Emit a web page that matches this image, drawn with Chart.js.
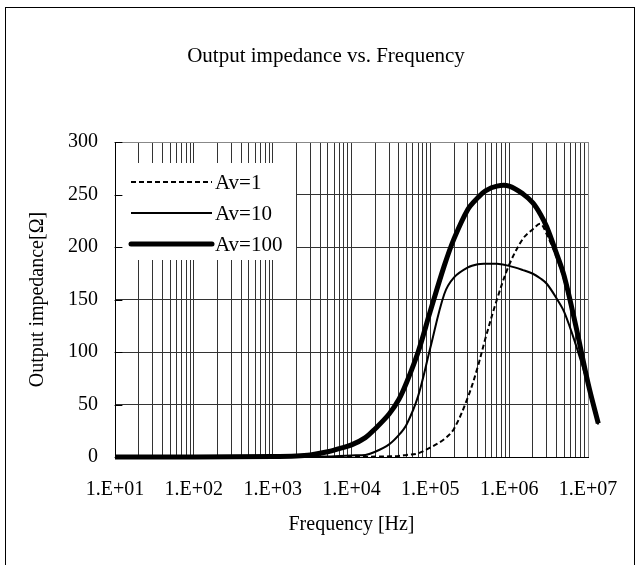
<!DOCTYPE html>
<html>
<head>
<meta charset="utf-8">
<script src="https://cdn.jsdelivr.net/npm/chart.js@4.4.1/dist/chart.umd.min.js"></script>
<style>
  html, body { margin: 0; padding: 0; background: #fff; }
  #wrap { width: 639px; height: 565px; }
</style>
</head>
<body>
<div id="wrap"><canvas id="impChart" width="639" height="565"></canvas></div>
<script>
// Values
const freq = [10, 100, 1000, 2000, 3000, 5000, 7000, 1e4, 1.5e4, 2e4, 3e4, 4e4, 5e4, 7e4,
    1e5, 1.5e5, 2e5, 3e5, 4e5, 5e5, 7e5, 1e6, 1.5e6, 2e6, 2.5e6, 3e6, 4e6, 5e6, 7e6, 1e7, 1.35e7];
const av1 = [0, 0, 0, 0, 0, 0, 0, 0.2, 0.3, 0.4, 0.6, 1, 2, 3.5,
    9, 17, 27, 57, 86, 113, 150, 183, 208, 217, 222, 212, 190, 168, 122, 70, 32];
const av10 = [0, 0, 0, 0, 0.3, 0.5, 1, 1.5, 2, 5, 12, 21, 31, 58,
    104, 155, 171, 180.5, 183.5, 184, 184, 182, 178, 174.5, 170, 165, 151, 138, 107, 69, 31];
const av100 = [0, 0, 0.5, 1, 2, 5, 8, 11.5, 18.5, 27, 41, 55, 71, 100,
    139, 182, 208, 236, 247, 253.5, 258, 258, 250.5, 242, 231, 219, 193.5, 172, 125, 70.5, 32];

const seriesNames = ['Av=1', 'Av=10', 'Av=100'];
const decades = [1e1, 1e2, 1e3, 1e4, 1e5, 1e6, 1e7];
const xTickLabels = ['1.E+01', '1.E+02', '1.E+03', '1.E+04', '1.E+05', '1.E+06', '1.E+07'];
const yTicks = [0, 50, 100, 150, 200, 250, 300];

const chartTitle = 'Output impedance vs. Frequency';
const xTitle = 'Frequency [Hz]';
const yTitle = 'Output impedance[Ω]';

const serif = "'Liberation Serif', 'Times New Roman', serif";
Chart.defaults.font.family = serif;
Chart.defaults.color = '#000';

function toPoints(values) {
    return freq.map((f, i) => ({ x: f, y: values[i] }));
}

// 1..9 x 10^n positions for the log grid
const gridValues = [];
decades.forEach((d, i) => {
    for (let m = 1; m <= 9; m++) {
        if (i < decades.length - 1 || m === 1) gridValues.push(d * m);
    }
});

// line looks for the three series (also used by the legend)
const styles = [
    { width: 2, dash: [5, 3] },
    { width: 2, dash: [] },
    { width: 5, dash: [] },
];

// white page, outer frame and the title
const framePlugin = {
    id: 'frame',
    beforeDraw(chart) {
        const c = chart.ctx;
        c.save();
        c.fillStyle = '#fff';
        c.fillRect(0, 0, chart.width, chart.height);
        c.strokeStyle = '#000';
        c.lineWidth = 1;
        c.strokeRect(5.5, 7.5, 629, 560);
        c.restore();
    },
    afterDraw(chart) {
        const c = chart.ctx;
        c.save();
        c.fillStyle = '#000';
        c.font = '21px ' + serif;
        c.textAlign = 'center';
        c.textBaseline = 'middle';
        c.fillText(chartTitle, 326, 56);
        c.restore();
    }
};

// legend box inside the plot, plus the short inside ticks on the y axis
const legendBoxPlugin = {
    id: 'legendBox',
    afterDatasetsDraw(chart) {
        const c = chart.ctx;
        const area = chart.chartArea;
        const yScale = chart.scales.y;
        c.save();
        c.fillStyle = '#fff';
        c.fillRect(area.left + 1, 163, 180, 97);

        const rows = [182, 213, 244];
        c.font = '21px ' + serif;
        c.textBaseline = 'middle';
        c.textAlign = 'left';
        seriesNames.forEach((name, i) => {
            c.strokeStyle = '#000';
            c.lineWidth = styles[i].width;
            c.setLineDash(styles[i].dash);
            c.lineCap = i === 2 ? 'round' : 'butt';
            c.beginPath();
            c.moveTo(131, rows[i]);
            c.lineTo(212, rows[i]);
            c.stroke();
            c.setLineDash([]);
            c.fillStyle = '#000';
            c.fillText(name, 215, rows[i] + 1);
        });

        c.strokeStyle = '#000';
        c.lineWidth = 1;
        yTicks.forEach(v => {
            const py = Math.round(yScale.getPixelForValue(v)) + 0.5;
            c.beginPath();
            c.moveTo(area.left, py);
            c.lineTo(area.left + 7, py);
            c.stroke();
        });
        c.restore();
    }
};

const series = [av1, av10, av100];
const ctx = document.getElementById('impChart').getContext('2d');
new Chart(ctx, {
    type: 'line',
    data: {
        datasets: series.map((vals, i) => ({
            label: seriesNames[i],
            data: toPoints(vals),
            borderColor: '#000',
            borderWidth: styles[i].width,
            borderDash: styles[i].dash,
            borderJoinStyle: 'round',
            pointRadius: 0,
            fill: false,
            tension: 0.35,
            clip: false,
        })),
    },
    options: {
        responsive: false,
        animation: false,
        devicePixelRatio: 1,
        layout: { padding: { left: 10, right: 51, top: 142, bottom: 10 } },
        plugins: {
            legend: { display: false },
            title: { display: false },
            tooltip: { enabled: false },
        },
        scales: {
            x: {
                type: 'logarithmic',
                bounds: 'data',
                // range set here (not via min/max) so the last point past 1E+07 is still drawn
                afterDataLimits(scale) {
                    scale.min = 10;
                    scale.max = 1e7;
                },
                afterBuildTicks(scale) {
                    scale.ticks = gridValues.map(v => ({ value: v, major: decades.includes(v) }));
                },
                afterFit(scale) { scale.height = 98; },
                ticks: {
                    autoSkip: false,
                    maxRotation: 0,
                    padding: 21,
                    font: { size: 20 },
                    callback(value) {
                        const i = decades.indexOf(value);
                        return i >= 0 ? xTickLabels[i] : '';
                    },
                },
                grid: {
                    drawTicks: false,
                    color: ctx => (ctx.tick && ctx.tick.value === 1e7 ? '#888' : '#333'),
                    lineWidth: 1,
                },
                border: { color: '#000', width: 1 },
                title: {
                    display: true,
                    text: xTitle,
                    font: { size: 20 },
                    padding: { top: 0, bottom: 18 },
                },
            },
            y: {
                min: 0,
                max: 300,
                afterBuildTicks(scale) {
                    scale.ticks = yTicks.map(v => ({ value: v }));
                },
                afterFit(scale) { scale.width = 105; },
                ticks: {
                    padding: 17,
                    font: { size: 20 },
                },
                grid: {
                    drawTicks: false,
                    color: ctx => (ctx.tick && ctx.tick.value === 300 ? '#888' : '#333'),
                    lineWidth: 1,
                },
                border: { color: '#000', width: 1 },
                title: {
                    display: true,
                    text: yTitle,
                    font: { size: 20 },
                    padding: { top: 16, bottom: 0 },
                },
            },
        },
    },
    plugins: [framePlugin, legendBoxPlugin],
});
</script>
</body>
</html>
